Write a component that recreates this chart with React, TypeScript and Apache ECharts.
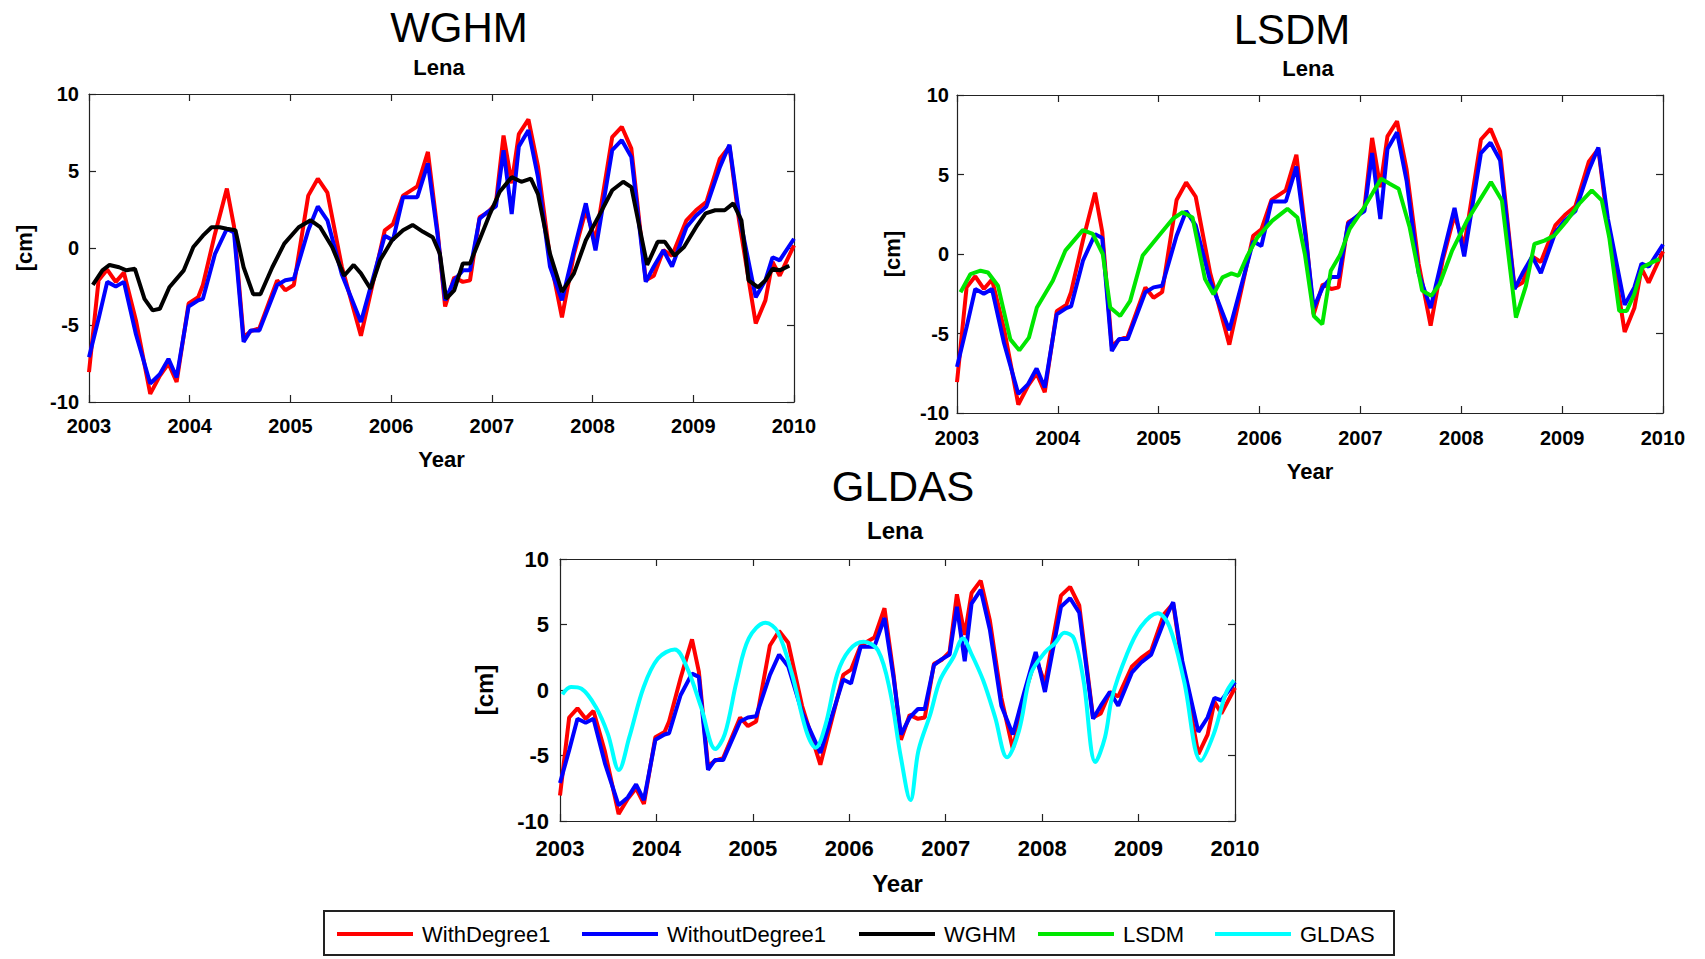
import React, { useEffect, useRef } from "react";
import * as echarts from "echarts";

// ---- data (decimal years, cm) ----
const obsYears = [2003.0, 2003.095, 2003.181, 2003.266, 2003.347, 2003.466, 2003.608, 2003.703, 2003.789, 2003.87, 2003.989, 2004.084, 2004.131, 2004.25, 2004.369, 2004.44, 2004.535, 2004.606, 2004.692, 2004.868, 2004.949, 2005.034, 2005.177, 2005.272, 2005.367, 2005.51, 2005.7, 2005.937, 2006.018, 2006.118, 2006.26, 2006.365, 2006.46, 2006.536, 2006.626, 2006.712, 2006.783, 2006.878, 2006.959, 2007.04, 2007.116, 2007.197, 2007.268, 2007.363, 2007.458, 2007.577, 2007.696, 2007.815, 2007.933, 2008.029, 2008.195, 2008.29, 2008.385, 2008.528, 2008.608, 2008.703, 2008.789, 2008.932, 2009.027, 2009.131, 2009.264, 2009.359, 2009.454, 2009.62, 2009.716, 2009.787, 2009.858, 2010.0];
const withDegree1 = [-8.06, -2.1, -1.4, -2.2, -1.6, -4.7, -9.47, -8.3, -7.5, -8.7, -3.6, -3.2, -2.4, 0.9, 3.86, 1.4, -5.8, -5.4, -5.2, -2.1, -2.75, -2.4, 3.4, 4.5, 3.6, -1.2, -5.7, 1.15, 1.55, 3.4, 4.0, 6.24, 1.15, -3.8, -1.9, -2.2, -2.1, 2.0, 2.3, 2.9, 7.3, 4.2, 7.4, 8.35, 5.3, -0.6, -4.5, -0.4, 2.45, 0.5, 7.2, 7.87, 6.45, -2.1, -1.8, -0.15, -0.5, 1.8, 2.45, 3.0, 5.8, 6.6, 1.8, -4.9, -3.4, -0.9, -1.8, 0.17];
const withoutDegree1 = [-7.1, -4.6, -2.2, -2.5, -2.2, -5.6, -8.8, -8.2, -7.2, -8.4, -3.8, -3.4, -3.3, -0.4, 1.25, 1.0, -6.1, -5.35, -5.35, -2.4, -2.1, -2.0, 1.15, 2.7, 1.8, -1.7, -4.8, 0.8, 0.5, 3.3, 3.3, 5.5, 0.9, -3.4, -2.1, -1.45, -1.45, 1.9, 2.35, 2.7, 6.35, 2.2, 6.6, 7.65, 4.6, -1.2, -3.4, -0.15, 2.9, -0.15, 6.35, 7.0, 5.9, -2.2, -1.2, -0.15, -1.2, 1.35, 2.1, 2.7, 5.25, 6.7, 2.2, -3.2, -2.1, -0.6, -0.8, 0.6];

const wghmYears = [2003.038, 2003.133, 2003.204, 2003.299, 2003.371, 2003.456, 2003.551, 2003.632, 2003.703, 2003.798, 2003.941, 2004.036, 2004.131, 2004.217, 2004.298, 2004.369, 2004.454, 2004.535, 2004.63, 2004.702, 2004.82, 2004.939, 2005.082, 2005.201, 2005.296, 2005.414, 2005.533, 2005.628, 2005.7, 2005.795, 2005.89, 2006.009, 2006.118, 2006.213, 2006.317, 2006.413, 2006.484, 2006.546, 2006.626, 2006.712, 2006.783, 2006.888, 2006.983, 2007.078, 2007.197, 2007.292, 2007.387, 2007.458, 2007.577, 2007.696, 2007.815, 2007.933, 2008.076, 2008.195, 2008.304, 2008.385, 2008.542, 2008.646, 2008.718, 2008.813, 2008.908, 2009.027, 2009.122, 2009.217, 2009.312, 2009.397, 2009.478, 2009.549, 2009.644, 2009.716, 2009.787, 2009.858, 2009.953];
const wghmValues = [-2.4, -1.45, -1.1, -1.25, -1.45, -1.35, -3.3, -4.05, -3.95, -2.55, -1.45, 0.06, 0.8, 1.35, 1.35, 1.25, 1.15, -1.25, -3.0, -3.0, -1.25, 0.28, 1.35, 1.8, 1.35, 0.06, -1.8, -1.1, -1.65, -2.65, -0.8, 0.5, 1.15, 1.5, 1.05, 0.7, -0.37, -3.3, -2.75, -1.0, -1.0, 0.7, 2.25, 3.65, 4.6, 4.3, 4.5, 3.5, -0.37, -2.85, -1.65, 0.5, 2.25, 3.75, 4.3, 3.95, -1.1, 0.4, 0.4, -0.5, 0.06, 1.35, 2.25, 2.45, 2.45, 2.9, 1.8, -2.1, -2.55, -2.1, -1.35, -1.45, -1.15];

const lsdmYears = [2003.035, 2003.134, 2003.233, 2003.307, 2003.406, 2003.529, 2003.618, 2003.713, 2003.792, 2003.95, 2004.074, 2004.247, 2004.346, 2004.445, 2004.519, 2004.618, 2004.717, 2004.841, 2004.989, 2005.138, 2005.237, 2005.335, 2005.459, 2005.543, 2005.632, 2005.721, 2005.791, 2005.88, 2005.979, 2006.127, 2006.276, 2006.375, 2006.449, 2006.538, 2006.622, 2006.706, 2006.795, 2006.894, 2007.018, 2007.117, 2007.206, 2007.29, 2007.379, 2007.488, 2007.612, 2007.701, 2007.785, 2007.909, 2008.057, 2008.181, 2008.294, 2008.403, 2008.542, 2008.641, 2008.725, 2008.824, 2008.923, 2009.047, 2009.17, 2009.294, 2009.393, 2009.467, 2009.566, 2009.64, 2009.715, 2009.794, 2009.889, 2009.964];
const lsdmValues = [-2.4, -1.26, -1.05, -1.16, -2.0, -5.37, -6.06, -5.26, -3.37, -1.68, 0.21, 1.5, 1.26, 0.0, -3.37, -3.9, -2.95, -0.1, 1.05, 2.2, 2.63, 2.3, -1.58, -2.53, -1.47, -1.22, -1.37, -0.1, 1.05, 2.1, 2.84, 2.3, 0.0, -3.9, -4.42, -1.05, -0.1, 1.58, 2.74, 3.79, 4.74, 4.42, 4.1, 1.68, -2.3, -2.63, -1.9, 0.21, 2.1, 3.37, 4.53, 3.37, -4.0, -2.0, 0.63, 0.84, 1.16, 2.1, 3.16, 4.0, 3.37, 1.05, -3.58, -3.58, -2.53, -0.84, -0.53, -0.32];

const gldasYears = [2003.025, 2003.114, 2003.223, 2003.372, 2003.496, 2003.61, 2003.719, 2003.868, 2004.016, 2004.19, 2004.314, 2004.463, 2004.611, 2004.71, 2004.834, 2004.958, 2005.132, 2005.256, 2005.405, 2005.553, 2005.652, 2005.752, 2005.876, 2005.999, 2006.148, 2006.297, 2006.421, 2006.535, 2006.634, 2006.718, 2006.842, 2006.941, 2007.08, 2007.179, 2007.264, 2007.388, 2007.512, 2007.636, 2007.76, 2007.884, 2008.032, 2008.131, 2008.231, 2008.33, 2008.429, 2008.553, 2008.652, 2008.726, 2008.875, 2009.024, 2009.198, 2009.321, 2009.47, 2009.646, 2009.78, 2009.904, 2009.99];
const gldasValues = [-0.33, 0.23, 0.1, -1.3, -3.35, -6.1, -3.6, 0.23, 2.4, 3.1, 1.76, -1.3, -4.5, -3.35, 0.74, 3.94, 5.14, 4.45, 1.25, -3.1, -4.4, -2.7, 1.25, 3.04, 3.68, 3.04, -0.03, -5.14, -8.4, -4.6, -1.8, 0.74, 2.5, 3.94, 2.8, 0.74, -2.07, -5.14, -3.1, 1.25, 2.9, 3.55, 4.37, 3.94, 0.74, -5.5, -3.6, -0.54, 2.66, 4.83, 5.86, 4.83, 0.74, -5.4, -3.35, -0.28, 0.74];

const yearTicks = { min: 2003, max: 2010, interval: 1 };
const cmTicks = { min: -10, max: 10, interval: 5 };

const seriesNames = ["WithDegree1", "WithoutDegree1", "WGHM", "LSDM", "GLDAS"];
const seriesColors = ["#ff0000", "#0000ff", "#000000", "#00e600", "#00ffff"];

const zip = (xs: number[], ys: number[]) => xs.map((x, i) => [x, ys[i]]);

const FONT = "Liberation Sans, Arial, Helvetica, sans-serif";

type Panel = {
  title: string; tx: number; ty: number; lx: number; ly: number;
  left: number; top: number; width: number; height: number;
  labelSize: number; xMargin: number; yMargin: number;
  nameSize: number; xNameGap: number; yNameGap: number;
  model: number; modelX: number[]; modelY: number[]; smooth: number | boolean;
};

const panels: Panel[] = [
  { title: "WGHM", tx: 459, ty: 27, lx: 439, ly: 67, left: 89, top: 94, width: 705, height: 308, labelSize: 20, xMargin: 14, yMargin: 10, nameSize: 22, xNameGap: 46, yNameGap: 54, model: 2, modelX: wghmYears, modelY: wghmValues, smooth: false },
  { title: "LSDM", tx: 1292, ty: 29, lx: 1308, ly: 68, left: 957, top: 95, width: 706, height: 318, labelSize: 20, xMargin: 15, yMargin: 8, nameSize: 22, xNameGap: 47, yNameGap: 54, model: 3, modelX: lsdmYears, modelY: lsdmValues, smooth: false },
  { title: "GLDAS", tx: 903, ty: 486, lx: 895, ly: 530, left: 560, top: 559, width: 675, height: 262, labelSize: 22, xMargin: 16, yMargin: 11, nameSize: 24, xNameGap: 50, yNameGap: 64, model: 4, modelX: gldasYears, modelY: gldasValues, smooth: 0.35 },
];

const legendLeft = [332, 577, 854, 1033, 1210];

function buildOption() {
  const grid: any[] = [];
  const xAxis: any[] = [];
  const yAxis: any[] = [];
  const series: any[] = [];
  const graphic: any[] = [];
  const axisLine = { show: true, onZero: false, lineStyle: { color: "#222", width: 1.2 } };
  const tick = { show: true, inside: true, length: 7, lineStyle: { color: "#222", width: 1.2 } };

  panels.forEach((p, i) => {
    grid.push({ left: p.left, top: p.top, width: p.width, height: p.height, containLabel: false, show: true, backgroundColor: "#fff", borderWidth: 0 });
    const labelStyle = { color: "#000", fontSize: p.labelSize, fontWeight: "bold", fontFamily: FONT };
    xAxis.push({
      type: "value", gridIndex: i, position: "bottom", ...yearTicks,
      axisLine, axisTick: tick, splitLine: { show: false },
      axisLabel: { ...labelStyle, margin: p.xMargin, showMinLabel: true, showMaxLabel: true, hideOverlap: false, formatter: (v: number) => String(Math.round(v)) },
      name: "Year", nameLocation: "middle", nameGap: p.xNameGap,
      nameTextStyle: { color: "#000", fontSize: p.nameSize, fontWeight: "bold", fontFamily: FONT },
    });
    xAxis.push({
      type: "value", gridIndex: i, position: "top", ...yearTicks,
      axisLine, axisTick: tick, splitLine: { show: false }, axisLabel: { show: false },
    });
    yAxis.push({
      type: "value", gridIndex: i, position: "left", ...cmTicks,
      axisLine, axisTick: tick, splitLine: { show: false },
      axisLabel: { ...labelStyle, margin: p.yMargin, showMinLabel: true, showMaxLabel: true },
      name: "[cm]", nameLocation: "middle", nameGap: p.yNameGap,
      nameTextStyle: { color: "#000", fontSize: p.nameSize, fontWeight: "bold", fontFamily: FONT },
    });
    yAxis.push({
      type: "value", gridIndex: i, position: "right", ...cmTicks,
      axisLine, axisTick: tick, splitLine: { show: false }, axisLabel: { show: false },
    });

    const common = { type: "line", xAxisIndex: 2 * i, yAxisIndex: 2 * i, symbol: "none", showSymbol: false, clip: true };
    series.push({ ...common, name: seriesNames[0], data: zip(obsYears, withDegree1), lineStyle: { color: seriesColors[0], width: 4 }, itemStyle: { color: seriesColors[0] } });
    series.push({ ...common, name: seriesNames[1], data: zip(obsYears, withoutDegree1), lineStyle: { color: seriesColors[1], width: 4 }, itemStyle: { color: seriesColors[1] } });
    series.push({ ...common, name: seriesNames[p.model], data: zip(p.modelX, p.modelY), smooth: p.smooth, lineStyle: { color: seriesColors[p.model], width: 4 }, itemStyle: { color: seriesColors[p.model] } });

    graphic.push({ type: "text", x: p.tx, y: p.ty, style: { text: p.title, fill: "#000", font: `42px ${FONT}`, textAlign: "center", textVerticalAlign: "middle" } });
    graphic.push({ type: "text", x: p.lx, y: p.ly, style: { text: "Lena", fill: "#000", font: `bold ${i === 2 ? 24 : 22}px ${FONT}`, textAlign: "center", textVerticalAlign: "middle" } });
  });

  graphic.push({ type: "rect", shape: { x: 324, y: 911, width: 1070, height: 44 }, style: { fill: "#fff", stroke: "#222", lineWidth: 2 }, z: -1 });

  const legend = seriesNames.map((n, k) => ({
    data: [n], left: legendLeft[k], top: 918, orient: "horizontal",
    icon: "rect", itemWidth: 76, itemHeight: 4, selectedMode: false,
    textStyle: { color: "#000", fontSize: 22, fontFamily: FONT, padding: [0, 0, 0, 4] },
  }));

  return { animation: false, backgroundColor: "#fff", grid, xAxis, yAxis, series, legend, graphic };
}

export default function App() {
  const ref = useRef<HTMLDivElement>(null);
  useEffect(() => {
    if (!ref.current) return;
    const chart = echarts.init(ref.current, undefined, { renderer: "svg" });
    chart.setOption(buildOption() as any);
    return () => chart.dispose();
  }, []);
  return <div ref={ref} style={{ position: "absolute", left: 0, top: 0, width: 1705, height: 959, background: "#fff" }} />;
}
